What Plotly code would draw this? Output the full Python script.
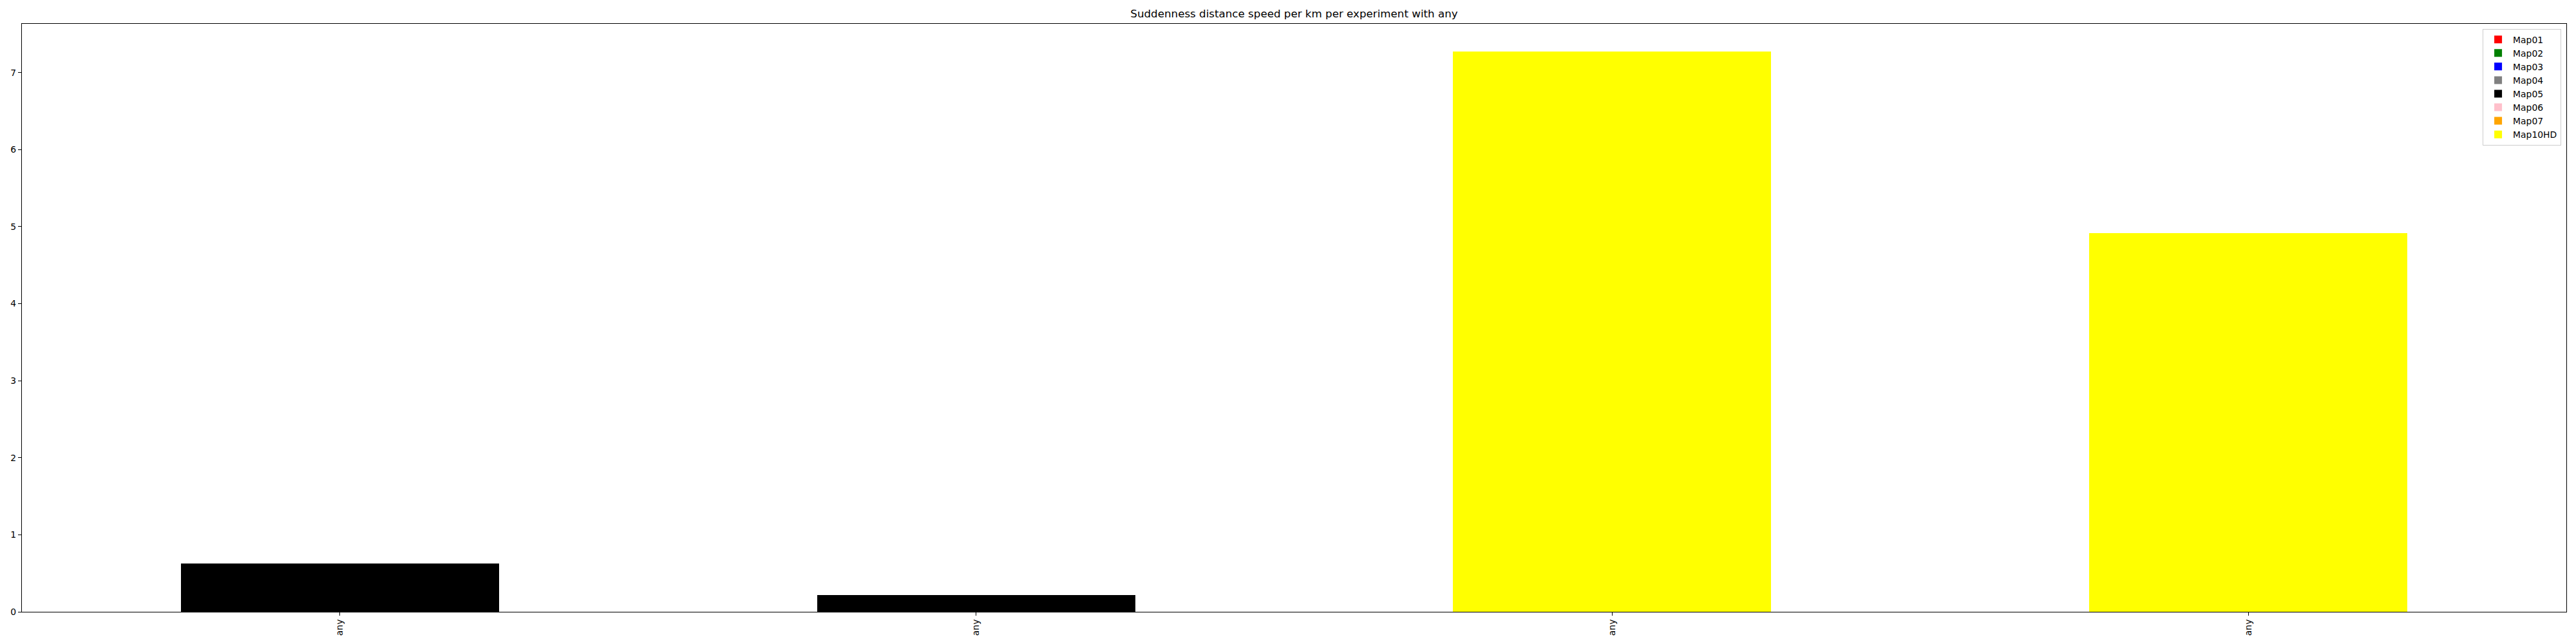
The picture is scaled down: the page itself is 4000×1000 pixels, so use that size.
import plotly.graph_objects as go

# Data
experiments = ["any", "any", "any", "any"]
maps = ["Map01", "Map02", "Map03", "Map04", "Map05", "Map06", "Map07", "Map10HD"]
map_colors = ["red", "green", "blue", "gray", "black", "pink", "orange", "yellow"]
map01 = [0, 0, 0, 0]
map02 = [0, 0, 0, 0]
map03 = [0, 0, 0, 0]
map04 = [0, 0, 0, 0]
map05 = [0.63, 0.22, 0, 0]
map06 = [0, 0, 0, 0]
map07 = [0, 0, 0, 0]
map10hd = [0, 0, 7.27, 4.92]
series = [map01, map02, map03, map04, map05, map06, map07, map10hd]
y_ticks = [0, 1, 2, 3, 4, 5, 6, 7]
title_text = "Suddenness distance speed per km per experiment with any"

positions = list(range(len(experiments)))

fig = go.Figure()
for name, color, vals in zip(maps, map_colors, series):
    fig.add_trace(go.Bar(
        x=positions, y=vals, name=name,
        marker=dict(color=color, line=dict(width=0)),
    ))

W, H = 4000, 1000
left, right, top, bottom = 34, 3985, 37, 950
font_family = "DejaVu Sans"

fig.update_layout(
    template="none",
    width=W, height=H, autosize=False,
    barmode="stack", bargap=0.5,
    paper_bgcolor="white", plot_bgcolor="white",
    margin=dict(l=left, r=W - right, t=top, b=H - bottom, pad=0, autoexpand=False),
    font=dict(family=font_family, size=14, color="black"),
    title=dict(text=title_text, x=(left + right) / 2 / W, xanchor="center",
               y=1 - 21 / H, yanchor="middle", yref="container",
               font=dict(size=16.7, family=font_family, color="black")),
    legend=dict(x=0.998, xanchor="right", y=0.9916, yanchor="top",
                traceorder="normal", bordercolor="#cccccc", borderwidth=1,
                bgcolor="rgba(255,255,255,0.8)", itemwidth=36,
                font=dict(size=13.9, family=font_family, color="black")),
    showlegend=True,
)

fig.update_xaxes(
    range=[-0.5, 3.5], tickmode="array", tickvals=positions, ticktext=experiments,
    tickangle=-90, showgrid=False, zeroline=False, automargin=False,
    showline=True, linecolor="black", linewidth=1.1, mirror=True,
    ticks="outside", ticklen=5, tickwidth=1.1, tickcolor="black",
    tickfont=dict(size=13.9, family=font_family, color="black"),
)
fig.update_yaxes(
    range=[0, 7.633], tickmode="array", tickvals=y_ticks,
    showgrid=False, zeroline=False, automargin=False,
    showline=True, linecolor="black", linewidth=1.1, mirror=True,
    ticks="outside", ticklen=5, tickwidth=1.1, tickcolor="black",
    tickfont=dict(size=13.9, family=font_family, color="black"),
)

fig.write_html(
    "out.html",
    config={"displayModeBar": False, "responsive": False},
    post_script="document.body.style.margin='0px';document.body.style.overflow='hidden';",
)
